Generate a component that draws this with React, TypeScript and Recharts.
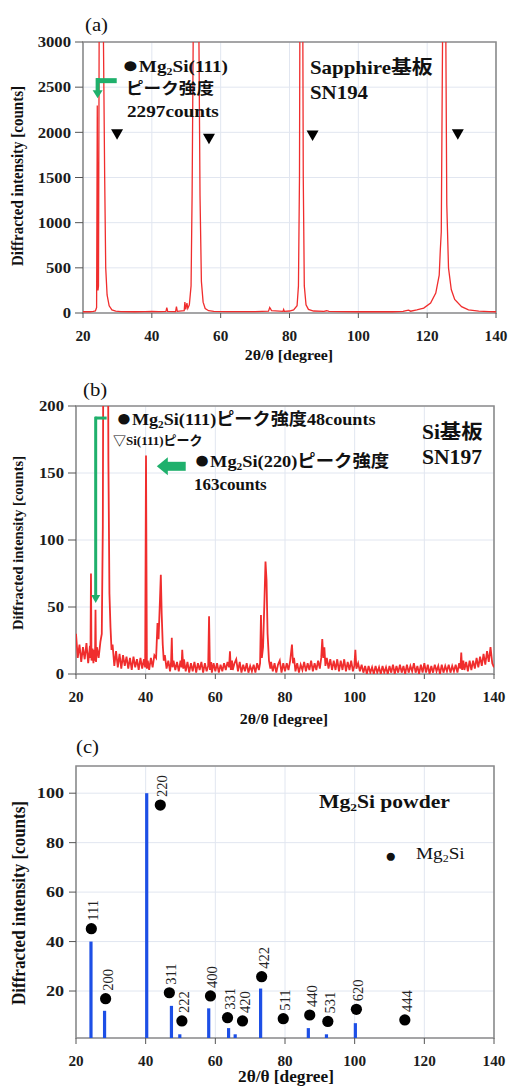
import React from "react";
import {
  ComposedChart, Line, Scatter, XAxis, YAxis, CartesianGrid,
  ReferenceArea, ReferenceLine, ReferenceDot,
} from "recharts";

const SERIF = "'Liberation Serif', 'Times New Roman', serif";
const JP = "'Noto Sans CJK JP', sans-serif";
const RED = "#f02d2d";
const GREEN = "#1fb06c";
const BLUE = "#1d4fe6";
const GRID = "#e1e6f0";
const FRAME = "#8c8c8c";

const X_TICKS = [20, 40, 60, 80, 100, 120, 140];
const A_Y_TICKS = [0, 500, 1000, 1500, 2000, 2500, 3000];
const B_Y_TICKS = [0, 50, 100, 150, 200];
const C_Y_TICKS = [20, 40, 60, 80, 100];
const C_FLOOR = 1;

// (a) sapphire substrate, 2θ / counts (big peaks run off the top)
const specA: [number, number][] = [
  [20, 14], [21, 15], [22, 14], [23, 18], [23.6, 22], [23.95, 60], [24.15, 2297], [24.35, 250],
  [24.5, 300], [24.7, 3200], [25.3, 9000], [25.9, 3200], [26.3, 1500], [26.6, 500], [27.0, 200],
  [27.6, 80], [28.4, 35], [29.5, 20], [31, 15], [35, 14], [38, 16], [40, 18], [42, 16],
  [44.1, 18], [44.35, 60], [44.6, 18], [46.9, 16], [47.15, 70], [47.4, 18], [49.4, 25],
  [49.6, 120], [49.85, 40], [50.2, 110], [50.45, 50], [50.9, 90], [51.4, 300], [51.7, 1300],
  [52.1, 3500], [52.9, 9000], [53.6, 3500], [54.0, 1300], [54.4, 350], [54.9, 120], [55.5, 50],
  [56.5, 25], [58, 18], [62, 15], [66, 15], [70, 16], [73.9, 20], [74.25, 60], [74.5, 45],
  [74.8, 25], [78.1, 18], [78.3, 40], [78.5, 18], [80, 22], [81.2, 35], [82.2, 80], [82.6, 300],
  [82.9, 1500], [83.4, 9000], [84.0, 1500], [84.3, 300], [84.8, 90], [85.5, 40], [87, 22],
  [90, 18], [90.8, 25], [91.5, 18], [95, 15], [100, 14], [105, 14], [110, 14], [113, 18],
  [114.2, 30], [114.6, 32], [115.2, 20], [117, 35], [119, 55], [121, 110], [122.5, 220],
  [123.5, 420], [123.8, 680], [124.1, 900], [124.5, 3200], [124.9, 9000], [125.4, 3200],
  [125.7, 1200], [126.2, 500], [127, 260], [128, 150], [130, 70], [132, 35], [135, 20],
  [138, 15], [140, 14],
];
// (a) ▼ substrate peak markers
const markA: [number, number][] = [[29.9, 1980], [56.6, 1930], [86.7, 1965], [128.9, 1980]];

// (b) Si substrate, noisy scan
const specB: [number, number][] = [
  [20, 30], [20.5, 12], [21, 22], [21.5, 9], [22, 20], [22.5, 11], [23, 23], [23.5, 8], [24, 21],
  [24.15, 12], [24.3, 75], [24.45, 10], [24.75, 19], [25, 8], [25.3, 18], [25.45, 10], [25.6, 48],
  [25.75, 9], [26, 20], [26.5, 12], [27, 24], [27.4, 30], [27.7, 110], [28.0, 400], [28.5, 900],
  [29.0, 400], [29.3, 160], [29.6, 60], [29.9, 35], [30.2, 18], [30.5, 22], [31, 6], [31.5, 17],
  [32, 5], [32.5, 15], [33, 4], [33.5, 14], [34, 6], [34.5, 13], [35, 4], [35.5, 12], [36, 3],
  [36.5, 13], [37, 5], [37.5, 11], [38, 3], [38.5, 12], [39, 4], [39.5, 11], [39.85, 5],
  [40.1, 163], [40.35, 4], [40.6, 10], [41, 3], [41.5, 12], [42, 5], [42.5, 14], [43, 12],
  [43.4, 38], [43.7, 26], [44.1, 55], [44.35, 74], [44.6, 45], [44.9, 22], [45.2, 10], [45.5, 14],
  [46, 4], [46.5, 10], [47, 2], [47.3, 9], [47.5, 27], [47.7, 5], [48, 10], [48.5, 3], [49, 9],
  [49.5, 2], [50, 10], [50.3, 5], [50.5, 18], [50.8, 4], [51, 11], [51.5, 2], [52, 9], [52.5, 1],
  [53, 8], [53.5, 2], [54, 9], [54.5, 1], [55, 8], [55.5, 3], [56, 9], [56.5, 1], [57, 8],
  [57.5, 2], [57.95, 6], [58.2, 43], [58.45, 3], [58.8, 9], [59, 1], [59.5, 8], [60, 2], [60.5, 8],
  [61, 1], [61.5, 7], [62, 2], [62.5, 8], [63, 3], [63.5, 9], [63.95, 5], [64.2, 17], [64.45, 3],
  [64.8, 10], [65, 3], [65.5, 8], [66, 11], [66.5, 2], [67, 9], [67.5, 1], [68, 7], [68.5, 2],
  [69, 8], [69.5, 1], [70, 6], [70.5, 2], [71, 7], [71.5, 1], [72, 8], [72.5, 3], [72.85, 8],
  [73.1, 44], [73.35, 12], [73.7, 20], [74.1, 55], [74.4, 84], [74.7, 70], [75.0, 30], [75.4, 10],
  [75.8, 4], [76, 9], [76.5, 2], [77, 8], [77.5, 1], [78, 7], [78.5, 10], [79, 1], [79.5, 8],
  [80, 2], [80.5, 8], [81, 3], [81.5, 10], [82, 22], [82.3, 8], [82.6, 12], [83, 2], [83.5, 8],
  [84, 1], [84.5, 7], [85, 3], [85.5, 9], [86, 2], [86.5, 8], [87, 3], [87.5, 10], [88, 2],
  [88.5, 8], [89, 3], [89.5, 10], [90, 4], [90.4, 12], [90.7, 26], [91.0, 12], [91.3, 20],
  [91.6, 6], [92, 12], [92.5, 4], [93, 11], [93.5, 3], [94, 10], [94.5, 3], [95, 11], [95.5, 2],
  [96, 10], [96.5, 3], [97, 11], [97.5, 2], [98, 9], [98.5, 3], [99, 10], [99.5, 2], [99.9, 6],
  [100.2, 18], [100.5, 4], [101, 8], [101.5, 2], [102, 7], [102.5, 1], [103, 6], [103.5, 0],
  [104, 6], [104.5, 1], [105, 5], [105.5, 0], [106, 6], [106.5, 1], [107, 5], [107.5, 0], [108, 6],
  [108.5, 1], [109, 5], [109.5, 0], [110, 6], [110.5, 1], [111, 7], [111.5, 0], [112, 6],
  [112.5, 1], [113, 7], [113.5, 1], [114, 6], [114.5, 0], [115, 7], [115.5, 1], [116, 6],
  [116.5, 2], [117, 8], [117.5, 1], [118, 6], [118.5, 0], [119, 7], [119.5, 1], [120, 8],
  [120.5, 1], [121, 7], [121.5, 0], [122, 6], [122.5, 1], [123, 7], [123.5, 2], [124, 6],
  [124.5, 0], [125, 7], [125.5, 1], [126, 6], [126.5, 2], [127, 7], [127.5, 1], [128, 6],
  [128.5, 2], [129, 7], [129.5, 1], [130, 8], [130.35, 4], [130.6, 16], [130.85, 3], [131.2, 10],
  [131.5, 3], [132, 9], [132.5, 2], [133, 10], [133.5, 3], [134, 10], [134.5, 4], [135, 12],
  [135.5, 5], [136, 13], [136.5, 6], [137, 15], [137.5, 7], [138, 17], [138.5, 9], [139, 20],
  [139.5, 8], [140, 5],
];

// (c) Mg2Si powder reference
const stickX = [24.3, 28.2, 40.3, 47.4, 49.8, 58.1, 63.8, 65.7, 73.0, 86.7, 91.9, 100.2];
const stickY = [40, 12, 100, 14, 2.5, 13, 5, 2.5, 21, 5, 2.5, 7];
const hkl = ["111", "200", "220", "311", "222", "400", "331", "420", "422", "511", "440", "531", "620", "444"];
const hklX = [24.4, 28.5, 44.2, 46.8, 50.4, 58.6, 63.5, 67.8, 73.3, 79.5, 87.1, 92.3, 100.5, 114.4];
const hklY = [45.2, 16.9, 95.2, 19.3, 7.9, 18.0, 9.2, 7.9, 25.8, 8.8, 10.3, 7.7, 12.6, 8.3];

const toXY = (arr: [number, number][]) => arr.map(([x, y]) => ({ x, y }));
const sticks = stickX.map((x, i) => [{ x, y: C_FLOOR }, { x, y: stickY[i] }]);
const dots = hkl.map((h, i) => ({ x: hklX[i], y: hklY[i], hkl: h }));

function tick(anchor: "end" | "middle", sx: number) {
  return (p: any) => (
    <g transform={`translate(${p.x},${p.y}) scale(${sx},1)`}>
      <text x={0} y={0} dy={anchor === "end" ? "0.36em" : "0.71em"} textAnchor={anchor}
        fontFamily={SERIF} fontWeight={700} fontSize={14.5} fill="#1c1c1c">
        {p.payload.value}
      </text>
    </g>
  );
}

const headDown = (w: number, h: number) => (p: any) => (
  <path d={`M${p.cx - w / 2},${p.cy - h} L${p.cx + w / 2},${p.cy - h} L${p.cx},${p.cy} Z`} fill={GREEN} />
);
const headLeft = (w: number, h: number) => (p: any) => (
  <path d={`M${p.cx},${p.cy} L${p.cx + w},${p.cy - h / 2} L${p.cx + w},${p.cy + h / 2} Z`} fill={GREEN} />
);
const triDown = (p: any) => (
  <path d={`M${p.cx - 6},${p.cy - 5} L${p.cx + 6},${p.cy - 5} L${p.cx},${p.cy + 5.5} Z`} fill="#000" />
);
const hklDot = (p: any) => (
  <g>
    <circle cx={p.cx} cy={p.cy} r={5.6} fill="#000" />
    <text transform={`translate(${p.cx + 2},${p.cy - 8}) rotate(-90)`} dominantBaseline="central"
      fontFamily={SERIF} fontSize={14.5} fill="#222">{p.payload.hkl}</text>
  </g>
);

function Txt({ x, y, size, bold = true, sx = 1, align = "left", rotate = false, children }: any) {
  let transform = `translateY(-50%) scaleX(${sx})`;
  let origin = "0 50%";
  if (rotate) { transform = `translate(-50%,-50%) rotate(-90deg) scaleY(${sx})`; origin = "50% 50%"; }
  else if (align === "center") { transform = `translate(-50%,-50%) scaleX(${sx})`; origin = "50% 50%"; }
  return (
    <div style={{
      position: "absolute", left: x, top: y, fontSize: size, fontWeight: bold ? 700 : 400,
      fontFamily: SERIF, lineHeight: 1, whiteSpace: "nowrap", color: "#111", transform, transformOrigin: origin,
    }}>{children}</div>
  );
}
const J = ({ children }: any) => <span style={{ fontFamily: JP, lineHeight: 0 }}>{children}</span>;
const Two = () => <span style={{ fontSize: "0.62em", position: "relative", top: "0.3em", lineHeight: 0 }}>2</span>;
const Dot = () => <span style={{ fontSize: "1.45em", lineHeight: 0, position: "relative", top: "0.03em" }}>●</span>;

const axisProps = { stroke: FRAME, tickLine: { stroke: "#555" } };

export default function App() {
  return (
    <div style={{ position: "absolute", left: 0, top: 0, width: 508, height: 1088, background: "#fff", overflow: "hidden" }}>
      {/* (a) */}
      <div style={{ position: "absolute", left: 0, top: 0 }}>
        <ComposedChart width={508} height={362} margin={{ top: 42, right: 12, bottom: 0, left: 0 }}>
          <CartesianGrid stroke={GRID} />
          <XAxis type="number" dataKey="x" domain={[20, 140]} ticks={X_TICKS} allowDataOverflow
            height={49} tickSize={5} tickMargin={13} axisLine={false} tick={tick("middle", 1.05)} {...axisProps} />
          <YAxis type="number" dataKey="y" domain={[0, 3000]} ticks={A_Y_TICKS} allowDataOverflow
            width={83} tickSize={8} tickMargin={4} axisLine={false} tick={tick("end", 1.15)} {...axisProps} />
          <Line data={toXY(specA)} dataKey="y" type="linear" stroke={RED} strokeWidth={1.3} dot={false} isAnimationActive={false} />
          <Scatter data={toXY(markA)} dataKey="y" shape={triDown} isAnimationActive={false} />
          <ReferenceLine segment={[{ x: 23.8, y: 2572 }, { x: 29.8, y: 2572 }]} stroke={GREEN} strokeWidth={5} />
          <ReferenceLine segment={[{ x: 24.25, y: 2600 }, { x: 24.25, y: 2440 }]} stroke={GREEN} strokeWidth={4} />
          <ReferenceDot x={24.25} y={2378} shape={headDown(10, 8)} ifOverflow="visible" />
          <ReferenceArea x1={20} x2={140} y1={0} y2={3000} fill="none" stroke={FRAME} strokeWidth={1.6} ifOverflow="visible" />
        </ComposedChart>
      </div>

      {/* (b) */}
      <div style={{ position: "absolute", left: 0, top: 362 }}>
        <ComposedChart width={508} height={360} margin={{ top: 44, right: 14, bottom: 0, left: 0 }}>
          <CartesianGrid stroke={GRID} />
          <XAxis type="number" dataKey="x" domain={[20, 140]} ticks={X_TICKS} allowDataOverflow
            height={48} tickSize={5} tickMargin={13} axisLine={false} tick={tick("middle", 1.05)} {...axisProps} />
          <YAxis type="number" dataKey="y" domain={[0, 200]} ticks={B_Y_TICKS} allowDataOverflow
            width={76} tickSize={8} tickMargin={4} axisLine={false} tick={tick("end", 1.15)} {...axisProps} />
          <Line data={toXY(specB)} dataKey="y" type="linear" stroke={RED} strokeWidth={1.8} dot={false} isAnimationActive={false} />
          <ReferenceLine segment={[{ x: 25.45, y: 191 }, { x: 28.8, y: 191 }]} stroke={GREEN} strokeWidth={3} />
          <ReferenceLine segment={[{ x: 25.65, y: 192 }, { x: 25.65, y: 58 }]} stroke={GREEN} strokeWidth={3} />
          <ReferenceDot x={25.65} y={53} shape={headDown(9, 8)} ifOverflow="visible" />
          <ReferenceLine segment={[{ x: 46.0, y: 155 }, { x: 51.5, y: 155 }]} stroke={GREEN} strokeWidth={9} />
          <ReferenceDot x={43.2} y={155} shape={headLeft(11, 18)} ifOverflow="visible" />
          <ReferenceArea x1={20} x2={140} y1={0} y2={200} fill="none" stroke={FRAME} strokeWidth={1.6} ifOverflow="visible" />
        </ComposedChart>
      </div>

      {/* (c) */}
      <div style={{ position: "absolute", left: 0, top: 722 }}>
        <ComposedChart width={508} height={366} margin={{ top: 44, right: 14, bottom: 0, left: 0 }}>
          <CartesianGrid stroke={GRID} />
          <XAxis type="number" dataKey="x" domain={[20, 140]} ticks={X_TICKS} allowDataOverflow
            height={50} tickSize={6} tickMargin={12} axisLine={false} tick={tick("middle", 1.05)} {...axisProps} />
          <YAxis type="number" dataKey="y" domain={[C_FLOOR, 111]} ticks={C_Y_TICKS} allowDataOverflow
            width={76} tickSize={7} tickMargin={5} axisLine={false} tick={tick("end", 1.25)} {...axisProps} />
          {sticks.map((s, i) => (
            <Line key={i} data={s} dataKey="y" type="linear" stroke={BLUE} strokeWidth={3.2}
              strokeLinecap="butt" dot={false} activeDot={false} isAnimationActive={false} />
          ))}
          <Scatter data={dots} dataKey="y" shape={hklDot} isAnimationActive={false} />
          <ReferenceArea x1={20} x2={140} y1={C_FLOOR} y2={111} fill="none" stroke={FRAME} strokeWidth={1.6} ifOverflow="visible" />
        </ComposedChart>
      </div>

      {/* text of (a) */}
      <Txt x={85} y={25} size={18} bold={false} sx={1.15}>(a)</Txt>
      <Txt x={122} y={67} size={16} sx={1.2}><Dot />Mg<Two />Si(111)</Txt>
      <Txt x={126} y={89} size={16} sx={1.1}><J>ピーク強度</J></Txt>
      <Txt x={127} y={112} size={16} sx={1.2}>2297counts</Txt>
      <Txt x={310} y={67} size={19} sx={1.1}>Sapphire<J>基板</J></Txt>
      <Txt x={310} y={92} size={19} sx={1.1}>SN194</Txt>
      <Txt x={18} y={176} size={15} sx={1.05} rotate>Diffracted intensity [counts]</Txt>
      <Txt x={289} y={355} size={15} sx={1.06} align="center">2θ/θ [degree]</Txt>

      {/* text of (b) */}
      <Txt x={83} y={390} size={18} bold={false} sx={1.15}>(b)</Txt>
      <Txt x={116} y={420} size={16.5} sx={1.1}><Dot />Mg<Two />Si(111)<J>ピーク強度</J>48counts</Txt>
      <Txt x={113} y={440} size={13}><J>▽</J>Si(111)<J>ピーク</J></Txt>
      <Txt x={194} y={461} size={17} sx={1.08}><Dot />Mg<Two />Si(220)<J>ピーク強度</J></Txt>
      <Txt x={194} y={484} size={17}>163counts</Txt>
      <Txt x={422} y={432} size={20} sx={1.07}>Si<J>基板</J></Txt>
      <Txt x={422} y={457} size={20} sx={1.08}>SN197</Txt>
      <Txt x={18} y={543} size={14.5} sx={1.05} rotate>Diffracted intensity [counts]</Txt>
      <Txt x={284} y={719} size={15} sx={1.06} align="center">2θ/θ [degree]</Txt>

      {/* text of (c) */}
      <Txt x={76} y={747} size={18} bold={false} sx={1.15}>(c)</Txt>
      <Txt x={319} y={802} size={18} sx={1.2}>Mg<Two />Si powder</Txt>
      <Txt x={385} y={855} size={19} bold={false}>●</Txt>
      <Txt x={416} y={854} size={16} bold={false} sx={1.2}>Mg<Two />Si</Txt>
      <Txt x={18.5} y={903} size={17} sx={1.05} rotate>Diffracted intensity [counts]</Txt>
      <Txt x={286} y={1077} size={16} sx={1.08} align="center">2θ/θ [degree]</Txt>
    </div>
  );
}
